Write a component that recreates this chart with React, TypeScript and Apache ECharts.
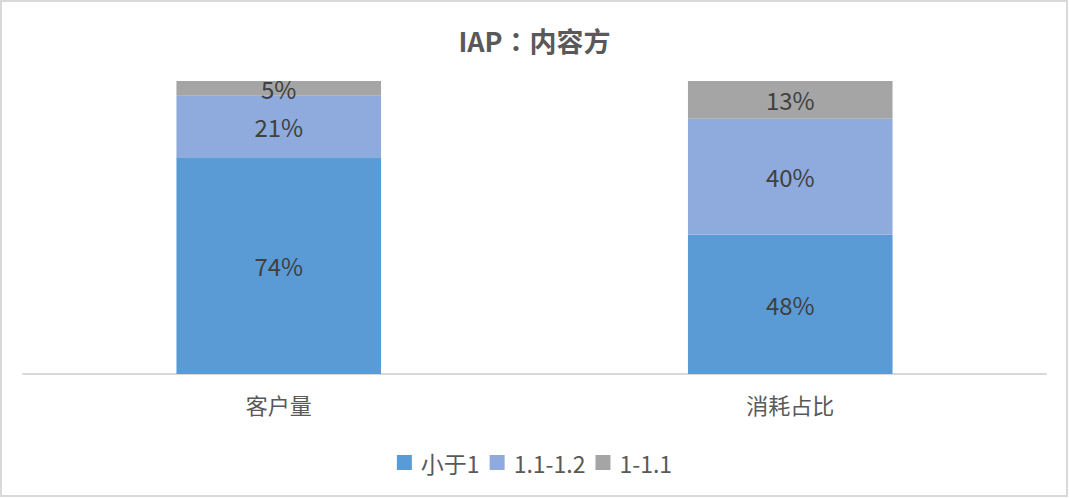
import React, { useEffect, useRef } from "react";
import * as echarts from "echarts";

const categories = ["客户量", "消耗占比"];
const seriesNames = ["小于1", "1.1-1.2", "1-1.1"];
const lessThan1 = [74, 48];
const from11to12 = [21, 40];
const from1to11 = [5, 13];
const colors = ["#5B9BD5", "#8FAADC", "#A5A5A5"];

const rawSeries = [lessThan1, from11to12, from1to11];
const totals = categories.map((_, i) => rawSeries.reduce((s, arr) => s + arr[i], 0));

export default function App() {
  const ref = useRef<HTMLDivElement>(null);
  useEffect(() => {
    document.body.style.margin = "0";
    const chart = echarts.init(ref.current!, undefined, { renderer: "svg" });
    const font = "'Noto Sans CJK SC', 'Noto Sans', sans-serif";
    chart.setOption({
      animation: false,
      textStyle: { fontFamily: font },
      title: {
        text: "IAP：内容方",
        left: "center",
        top: 22,
        textStyle: {
          fontSize: 27,
          fontWeight: "bold",
          color: "#595959",
          fontFamily: "'Noto Sans CJK TC', 'Noto Sans CJK SC', sans-serif",
        },
      },
      graphic: [
        {
          type: "rect",
          shape: { x: 1, y: 1, width: 1066, height: 495 },
          style: { fill: "none", stroke: "#D9D9D9", lineWidth: 2 },
          silent: true,
        },
      ],
      legend: {
        top: 446,
        left: "center",
        itemWidth: 15,
        itemHeight: 15,
        itemGap: 10,
        icon: "rect",
        textStyle: { fontSize: 23, color: "#595959", fontFamily: font, padding: [0, 0, 0, 4] },
        data: seriesNames,
      },
      grid: { left: 23, right: 23, top: 81, bottom: 124, containLabel: false },
      xAxis: {
        type: "category",
        data: categories,
        axisLine: { lineStyle: { color: "#D9D9D9", width: 2 } },
        axisTick: { show: false },
        axisLabel: { fontSize: 22, color: "#595959", margin: 19, fontFamily: font },
      },
      yAxis: {
        type: "value",
        min: 0,
        max: 1,
        show: false,
        splitLine: { show: false },
      },
      series: rawSeries.map((arr, si) => ({
        name: seriesNames[si],
        type: "bar",
        stack: "total",
        barWidth: "40%",
        itemStyle: { color: colors[si] },
        data: arr.map((v, i) => ({ value: v / totals[i], raw: v })),
        label: {
          show: true,
          position: "inside",
          fontSize: 24,
          color: "#404040",
          fontFamily: font,
          formatter: (p: any) => `${p.data.raw}%`,
        },
      })),
    });
    return () => chart.dispose();
  }, []);
  return <div ref={ref} style={{ width: 1069, height: 498 }} />;
}
